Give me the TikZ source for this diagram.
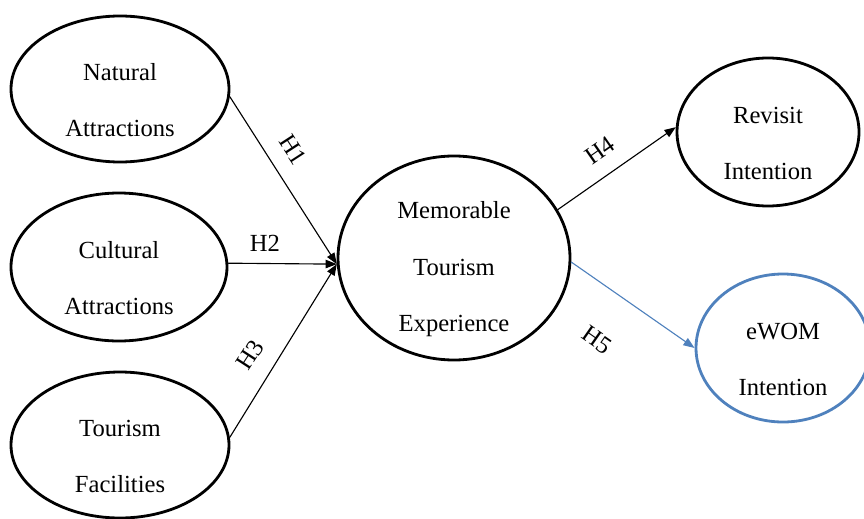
\documentclass[tikz,border=0pt]{standalone}
\usepackage{fontspec}
\setmainfont{Liberation Serif}
\usetikzlibrary{arrows.meta, shapes.geometric}
\definecolor{officeblue}{RGB}{79,129,189}
% extra room above the first line, so the text sits low in the ellipse
\newcommand{\toproom}{\rule{0pt}{28pt}}

\begin{document}
\begin{tikzpicture}[>={Triangle[length=8pt,width=6pt]}, line cap=round, line join=round,
	construct/.style={ellipse, draw, line width=2pt, align=center,
		inner xsep=0pt, inner ysep=-1.5cm,
		font=\fontsize{17.5}{40}\selectfont},
	path/.style={->, line width=0.8pt},
	hyp/.style={font=\fontsize{17.5}{20}\selectfont}]
\useasboundingbox (0,0) rectangle (21.6,12.95);
%========================
% exogenous constructs
%========================
\node[construct, minimum width=5.45cm, minimum height=3.65cm] (nat) at (3.0,10.725) {\toproom Natural\\Attractions};
\node[construct, minimum width=5.4cm, minimum height=3.7cm] (cul) at (2.975,6.275) {\toproom Cultural\\Attractions};
\node[construct, minimum width=5.45cm, minimum height=3.65cm] (fac) at (3.0,1.825) {\toproom Tourism\\Facilities};

% mediator
\node[construct, minimum width=5.8cm, minimum height=5.1cm] (mte) at (11.35,6.5) {\toproom Memorable\\Tourism\\Experience};

%========================
% outcomes
%========================
\node[construct, minimum width=4.55cm, minimum height=3.7cm] (rev) at (19.2,9.65) {\toproom Revisit\\Intention};
\node[construct, draw=officeblue, minimum width=4.35cm, minimum height=3.7cm] (ewom) at (19.575,4.25) {\toproom eWOM\\Intention};

% hypothesised paths
\draw[path] (nat.-4) -- (mte.183);
\draw[path] (cul.2) -- (mte.183);
\draw[path] (fac.4) -- (mte.183);
\draw[path] (mte.25) -- (rev.177);
\draw[path, officeblue] (mte.-2) -- (ewom.west);

% path labels
\node[hyp, rotate=-57] (h1) at (7.325,9.2) {H1};
\node[hyp] (h2) at (6.625,6.875) {H2};
\node[hyp, rotate=57] (h3) at (6.25,4.075) {H3};
\node[hyp, rotate=35] (h4) at (15.0,9.2) {H4};
\node[hyp, rotate=-35] (h5) at (14.925,4.45) {H5};
\end{tikzpicture}
\end{document}
